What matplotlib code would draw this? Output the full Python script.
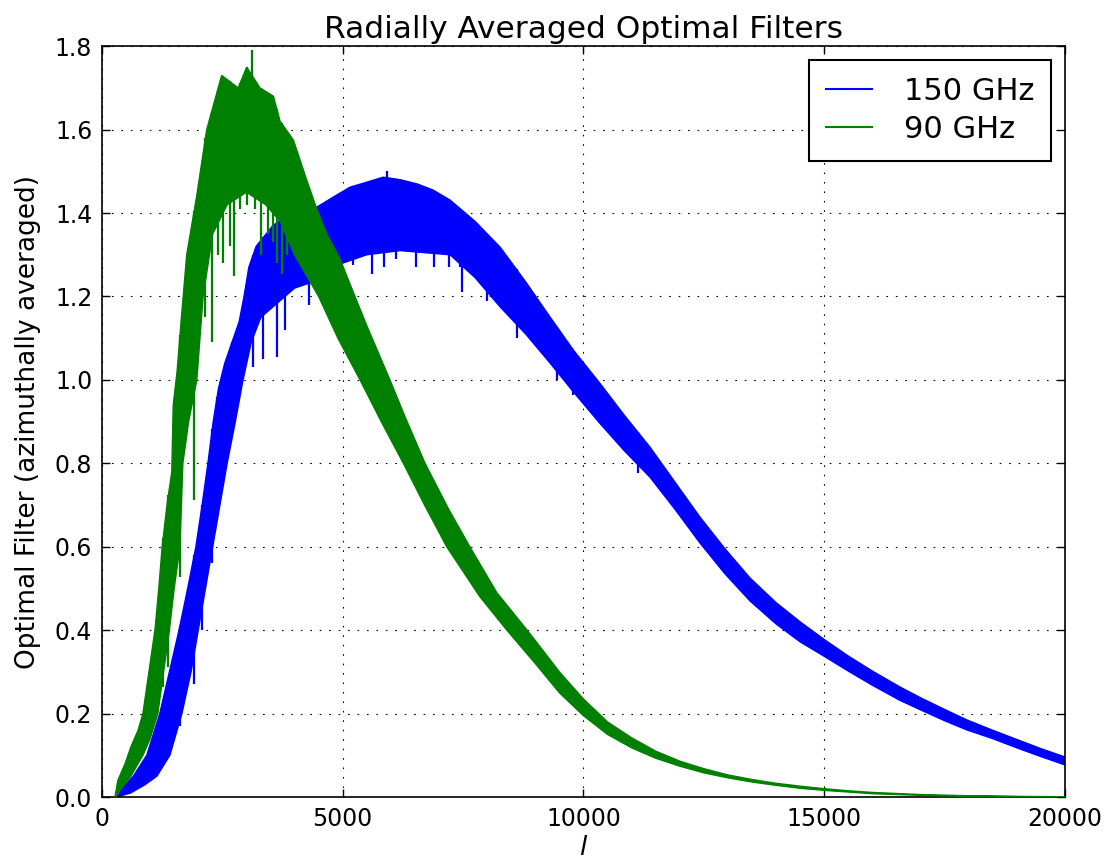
import numpy as np
import matplotlib
matplotlib.use("Agg")
import matplotlib.pyplot as plt
from matplotlib.lines import Line2D

plt.rcParams['font.family'] = ['DejaVu Sans']

# ---- data ----
series_labels = ["150 GHz", "90 GHz"]

# 150 GHz: upper / lower envelope of the noisy curve
blue_hi_l = [310, 450, 650, 930, 1200, 1400, 1600, 1780, 1950, 2080, 2200, 2310, 2420, 2550,
             2700, 2850, 2950, 3050, 3200, 3550, 3800, 4460, 4800, 5150, 5500, 5840, 6190, 6540,
             6880, 7230, 7750, 8270, 8800, 9310, 9800, 10340, 10850, 11380, 11900, 12420,
             12940, 13460, 14000, 14500, 15020, 15500, 16000, 16570, 17000, 17500, 17960,
             18500, 19000, 19500, 20000]
blue_hi = [0.0, 0.025, 0.05, 0.10, 0.20, 0.30, 0.40, 0.50, 0.60, 0.70, 0.80, 0.90, 0.98, 1.04,
           1.09, 1.14, 1.20, 1.27, 1.32, 1.37, 1.39, 1.414, 1.438, 1.462, 1.474, 1.486, 1.48, 1.47,
           1.455, 1.431, 1.38, 1.318, 1.235, 1.15, 1.07, 0.992, 0.915, 0.839, 0.755, 0.671,
           0.595, 0.525, 0.466, 0.42, 0.376, 0.338, 0.302, 0.264, 0.238, 0.21, 0.185,
           0.16, 0.138, 0.116, 0.096]
blue_lo_l = [310, 600, 900, 1140, 1410, 1660, 1850, 2000, 2150, 2300, 2450, 2600, 2770, 2930,
             3100, 3300, 3600, 4000, 4500, 5000, 5500, 6190, 7230, 7750, 8270, 8800, 9310, 9800,
             10340, 10850, 11380, 11900, 12420, 12940, 13460, 14000, 14500, 15020, 15500,
             16000, 16570, 17000, 17500, 17960, 18500, 19000, 19500, 20000]
blue_lo = [0.0, 0.01, 0.03, 0.05, 0.10, 0.20, 0.30, 0.40, 0.50, 0.60, 0.70, 0.80, 0.90, 1.00,
           1.09, 1.15, 1.18, 1.22, 1.24, 1.28, 1.30, 1.31, 1.30, 1.245, 1.175, 1.11, 1.04, 0.97,
           0.896, 0.83, 0.767, 0.69, 0.609, 0.535, 0.47, 0.415, 0.372, 0.336, 0.302,
           0.268, 0.232, 0.209, 0.183, 0.161, 0.14, 0.118, 0.097, 0.077]
# downward noise spikes of the 150 GHz curve (l, lowest value)
blue_spike_l = [1620, 1915, 2080, 2290, 2390, 2700, 3140, 3350, 3630, 3800, 4300, 5220, 5600,
                5850, 6100, 6515, 6900, 7200, 7440, 7470, 8000, 8610, 9450, 9790, 11130]
blue_spike_min = [0.17, 0.27, 0.40, 0.56, 0.724, 0.92, 1.03, 1.05, 1.055, 1.12, 1.18, 1.275,
                  1.255, 1.27, 1.29, 1.27, 1.27, 1.27, 1.27, 1.211, 1.19, 1.10, 1.00, 0.963,
                  0.776]
blue_upspike_l = [5930]
blue_upspike_max = [1.50]

# 90 GHz: upper / lower envelope
green_hi_l = [270, 330, 480, 600, 750, 850, 950, 1100, 1180, 1250, 1350, 1450, 1480, 1560,
              1650, 1760, 1966, 2175, 2486, 2830, 3006, 3282, 3560, 3700, 3976, 4250, 4460,
              4667, 4943, 5220, 5500, 5980, 6300, 6710, 7200, 7640, 8200, 8830, 9000, 9500,
              10000, 10500, 11000, 11500, 12000, 12500, 13000, 13500, 14000, 14500, 15000,
              15500, 16000, 17000, 18000, 19000, 20000]
green_hi = [0.0, 0.04, 0.08, 0.12, 0.16, 0.20, 0.28, 0.40, 0.50, 0.60, 0.70, 0.78, 0.94, 1.02,
            1.15, 1.30, 1.44, 1.60, 1.73, 1.70, 1.75, 1.70, 1.68, 1.62, 1.575, 1.48, 1.41,
            1.35, 1.29, 1.21, 1.13, 1.00, 0.91, 0.80, 0.69, 0.60, 0.49, 0.40, 0.375, 0.30,
            0.235, 0.18, 0.142, 0.11, 0.086, 0.068, 0.053, 0.042, 0.033, 0.026, 0.020,
            0.015, 0.011, 0.006, 0.003, 0.0015, 0.0008]
green_lo_l = [270, 400, 600, 850, 1000, 1160, 1280, 1400, 1500, 1620, 1680, 1800, 1970, 2100,
              2300, 2600, 3000, 3400, 3700, 4000, 4500, 4900, 5360, 5800, 6260, 6700, 7160,
              7850, 8410, 9000, 9500, 10000, 10500, 11000, 11500, 12000, 12500, 13000, 13500,
              14000, 14500, 15000, 16000, 17000, 18000, 20000]
green_lo = [0.0, 0.02, 0.05, 0.10, 0.14, 0.20, 0.30, 0.40, 0.50, 0.60, 0.80, 0.90, 1.00, 1.20,
            1.35, 1.42, 1.45, 1.42, 1.38, 1.30, 1.20, 1.10, 1.00, 0.90, 0.80, 0.70, 0.60,
            0.48, 0.40, 0.32, 0.25, 0.195, 0.15, 0.118, 0.093, 0.074, 0.058, 0.046, 0.036,
            0.028, 0.021, 0.016, 0.008, 0.004, 0.002, 0.0]
green_spike_l = [1270, 1380, 1620, 1915, 2150, 2280, 2400, 2520, 2650, 2750, 2870, 3006, 3180,
                 3300, 3450, 3550, 3630, 3730, 3840]
green_spike_min = [0.264, 0.312, 0.527, 0.712, 1.15, 1.09, 1.30, 1.28, 1.32, 1.25, 1.41, 1.42,
                   1.41, 1.30, 1.35, 1.33, 1.28, 1.255, 1.30]
green_upspike_l = [3110]
green_upspike_max = [1.79]

x_ticks = [0, 5000, 10000, 15000, 20000]
y_ticks = [0.0, 0.2, 0.4, 0.6, 0.8, 1.0, 1.2, 1.4, 1.6, 1.8]

# ---- figure ----
fig = plt.figure(figsize=(11.12, 8.67), dpi=100, facecolor='white')
ax = fig.add_axes([0.0917, 0.0807, 0.866, 0.866])

def draw(hi_l, hi, lo_l, lo, sp_l, sp_min, up_l, up_max, color, z):
    xs = np.concatenate([hi_l, lo_l[::-1]])
    ys = np.concatenate([hi, lo[::-1]])
    ax.fill(xs, ys, facecolor=color, edgecolor=color, lw=1.0, zorder=z)
    tops = np.interp(sp_l, hi_l, hi)
    ax.vlines(sp_l, sp_min, tops, colors=color, lw=1.6, zorder=z)
    bots = np.interp(up_l, lo_l, lo)
    ax.vlines(up_l, bots, up_max, colors=color, lw=1.6, zorder=z)

draw(blue_hi_l, blue_hi, blue_lo_l, blue_lo, blue_spike_l, blue_spike_min,
     blue_upspike_l, blue_upspike_max, 'blue', 2)
draw(green_hi_l, green_hi, green_lo_l, green_lo, green_spike_l, green_spike_min,
     green_upspike_l, green_upspike_max, 'green', 3)

ax.set_xlim(0, 20000)
ax.set_ylim(0, 1.8)
ax.set_xticks(x_ticks)
ax.set_yticks(y_ticks)
ax.set_yticklabels([f"{v:.1f}" for v in y_ticks])
ax.tick_params(direction='in', top=True, right=True, length=6, width=1, labelsize=17, pad=7)
ax.grid(True, color='black', linestyle=(0, (1.5, 7)), linewidth=0.8)
ax.set_axisbelow(True)
for s in ax.spines.values():
    s.set_linewidth(1.2)

ax.set_title("Radially Averaged Optimal Filters", fontsize=22.5, pad=6)
ax.set_xlabel("$l$", fontsize=19, labelpad=3)
ax.set_ylabel("Optimal Filter (azimuthally averaged)", fontsize=19, labelpad=10)

handles = [Line2D([], [], color='blue', lw=1.5), Line2D([], [], color='green', lw=1.5)]
leg = ax.legend(handles, series_labels, loc='upper right', fontsize=22, fancybox=False,
                framealpha=1, edgecolor='black', borderpad=0.55, handlelength=1.5,
                handletextpad=1.05, labelspacing=0.3, borderaxespad=0.45)
leg.get_frame().set_linewidth(1.5)

fig.savefig("out.png", dpi=100, facecolor='white')
